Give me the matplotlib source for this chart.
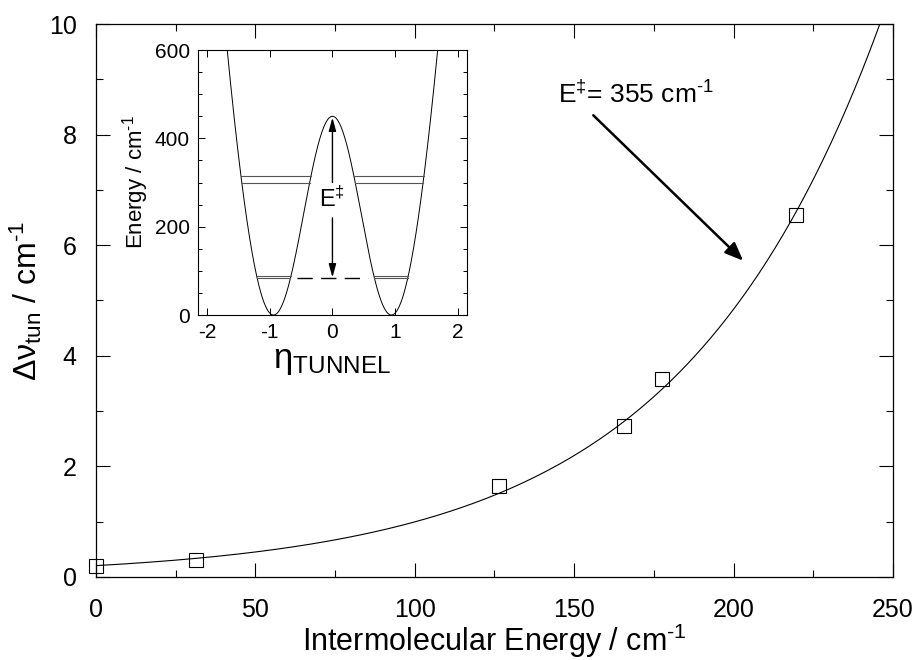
import numpy as np
import matplotlib
matplotlib.use("Agg")
import matplotlib.pyplot as plt
from matplotlib.ticker import MultipleLocator

# ---------------- data ----------------
energy = [0, 31.5, 126.5, 165.5, 177.5, 219.5]          # intermolecular energy / cm-1
splitting = [0.20, 0.31, 1.65, 2.73, 3.58, 6.55]        # tunnelling splitting / cm-1

# fitted curve parameters (read from drawn fit: y = A*exp(B*x))
fit_A = 0.205
fit_B = 0.01581

# inset: double-well potential parameters
barrier_height = 450.0      # cm-1 at eta = 0
well_position = 0.94        # eta of the minima
barrier_width = 0.81
upper_levels = [315, 300]
lower_levels = [89, 83]
dash_level = 83
dash_extent = [-0.56, 0.56]
arrow_top = 447
arrow_bottom = 85
label_level = 262

annot_text_xy = [145, 8.72]
annot_arrow_start = [156, 8.35]
annot_arrow_end = [203, 5.72]

# ---------------- fonts ----------------
reg = 'Liberation Sans'
plt.rcParams['font.family'] = [reg, 'DejaVu Sans']
plt.rcParams['mathtext.fontset'] = 'custom'
plt.rcParams['mathtext.rm'] = reg
plt.rcParams['mathtext.it'] = reg
plt.rcParams['mathtext.default'] = 'regular'
plt.rcParams['axes.unicode_minus'] = False

fig = plt.figure(figsize=(9.2, 6.6), dpi=100)
ax = fig.add_axes([0.1043, 0.1258, 0.8663, 0.8378])

xs = np.linspace(0, 250, 400)
ys = fit_A * np.exp(fit_B * xs)
ax.plot(xs, ys, color='black', lw=0.8)
ax.plot(energy, splitting, linestyle='none', marker='s', markersize=9.5,
        markerfacecolor='none', markeredgecolor='black', markeredgewidth=0.8, clip_on=False)

ax.set_xlim(0, 250)
ax.set_ylim(0, 10)
ax.xaxis.set_major_locator(MultipleLocator(50))
ax.xaxis.set_minor_locator(MultipleLocator(25))
ax.yaxis.set_major_locator(MultipleLocator(2))
ax.yaxis.set_minor_locator(MultipleLocator(1))
ax.tick_params(which='both', direction='in', top=True, right=True, width=0.8)
ax.tick_params(which='major', length=10)
ax.tick_params(which='minor', length=5)
ax.tick_params(axis='x', pad=15, labelsize=18)
ax.tick_params(axis='y', pad=14, labelsize=18)
for s in ax.spines.values():
    s.set_linewidth(0.9)

ax.set_xlabel(r'Intermolecular Energy / cm$^{\text{-1}}$', fontsize=22, labelpad=0)
ax.set_ylabel(r'$\Delta\nu_{tun}$ / cm$^{\text{-1}}$', fontsize=23, labelpad=3)

ax.text(annot_text_xy[0], annot_text_xy[1], r'E$^{\ddagger}$= 355 cm$^{\text{-1}}$', fontsize=19,
        ha='left', va='center')
ax.annotate('', xy=annot_arrow_end, xytext=annot_arrow_start,
            arrowprops=dict(arrowstyle='-|>,head_length=1.1,head_width=0.45', color='black', lw=1.8,
                            shrinkA=0, shrinkB=0))

# ---------------- inset ----------------
ins = fig.add_axes([0.2155, 0.5227, 0.2917, 0.4015])

def potential(eta):
    # harmonic wells with a gaussian barrier, minima at +/- well_position
    e0 = np.exp(-well_position**2 / barrier_width**2)
    denom = 1 - e0 * (1 + well_position**2 / barrier_width**2)
    B = barrier_height / denom
    k = B * e0 / barrier_width**2
    C = barrier_height - B
    return k * eta**2 + B * np.exp(-eta**2 / barrier_width**2) + C

eta = np.linspace(-2.2, 2.2, 1000)
ins.plot(eta, potential(eta), color='black', lw=0.7)

def crossings(level):
    v = potential(eta) - level
    idx = np.where(np.sign(v[:-1]) != np.sign(v[1:]))[0]
    return [eta[i] - v[i] * (eta[i + 1] - eta[i]) / (v[i + 1] - v[i]) for i in idx]

for lvl in upper_levels + lower_levels:
    c = crossings(lvl)
    for a, b in [(c[0], c[1]), (c[2], c[3])]:
        ins.plot([a, b], [lvl, lvl], color='#555555', lw=0.8)

ins.plot(dash_extent, [dash_level, dash_level], color='black', lw=1.0, dashes=(11, 6))

ins.annotate('', xy=(0, arrow_top), xytext=(0, label_level + 38),
             arrowprops=dict(arrowstyle='-|>,head_length=0.8,head_width=0.22', color='black', lw=1.0,
                             shrinkA=0, shrinkB=0))
ins.annotate('', xy=(0, arrow_bottom), xytext=(0, label_level - 42),
             arrowprops=dict(arrowstyle='-|>,head_length=0.8,head_width=0.22', color='black', lw=1.0,
                             shrinkA=0, shrinkB=0))
ins.text(0, label_level, r'E$^{\ddagger}$', fontsize=17, ha='center', va='center')

ins.set_xlim(-2.14, 2.14)
ins.set_ylim(0, 600)
ins.xaxis.set_major_locator(MultipleLocator(1))
ins.yaxis.set_major_locator(MultipleLocator(200))
ins.yaxis.set_minor_locator(MultipleLocator(50))
ins.tick_params(which='both', direction='in', top=True, right=True, width=0.7, labelsize=15)
ins.tick_params(which='major', length=5)
ins.tick_params(which='minor', length=3)
ins.tick_params(axis='x', pad=6)
ins.tick_params(axis='y', pad=6)
for s in ins.spines.values():
    s.set_linewidth(0.8)
ins.set_ylabel(r'Energy / cm$^{\text{-1}}$', fontsize=16, labelpad=3)
ins.set_xlabel(r'$\eta_{TUNNEL}$', fontsize=25, labelpad=1)

fig.savefig('out.png', dpi=100)
